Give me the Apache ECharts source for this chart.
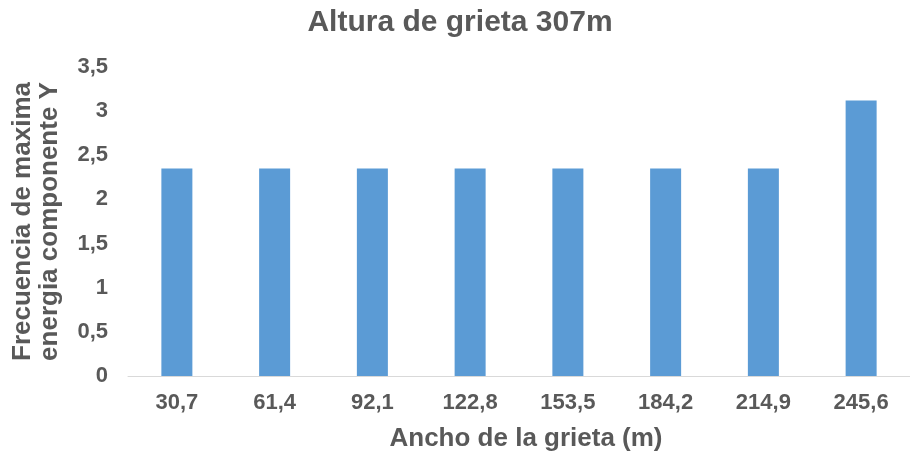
<!DOCTYPE html>
<html>
<head>
<meta charset="utf-8">
<script src="https://cdn.jsdelivr.net/npm/echarts@6/dist/echarts.min.js"></script>
<style>
  html, body { margin: 0; padding: 0; background: #ffffff; }
  #chart { width: 910px; height: 459px; }
</style>
</head>
<body>
<div id="chart"></div>
<script>
// Crack width categories (m) and the frequency of maximum Y-component energy
const categories = ['30,7', '61,4', '92,1', '122,8', '153,5', '184,2', '214,9', '245,6'];
const frequencies = [2.35, 2.35, 2.35, 2.35, 2.35, 2.35, 2.35, 3.12];

const chartTitle = 'Altura de grieta 307m';
const xTitle = 'Ancho de la grieta (m)';
const yTitle = 'Frecuencia de maxima\nenergia componente Y';

const textGray = '#595959';
const fontFamily = '"Liberation Sans", Arial, sans-serif';

const chart = echarts.init(document.getElementById('chart'), null, { renderer: 'canvas' });

chart.setOption({
  backgroundColor: '#ffffff',
  animation: false,
  title: {
    text: chartTitle,
    left: 455,
    textAlign: 'center',
    top: 3,
    textStyle: { color: textGray, fontFamily, fontSize: 30, fontWeight: 'bold' }
  },
  grid: { left: 128, top: 67, width: 789, height: 309, containLabel: false },
  xAxis: {
    type: 'category',
    data: categories,
    name: xTitle,
    nameLocation: 'middle',
    nameGap: 50,
    nameTextStyle: { color: textGray, fontFamily, fontSize: 26, fontWeight: 'bold', padding: [0, 0, 0, 14] },
    axisLine: { show: true, lineStyle: { color: '#D9D9D9', width: 1 } },
    axisTick: { show: false },
    axisLabel: { color: textGray, fontFamily, fontSize: 22, fontWeight: 'bold', margin: 16 },
    splitLine: { show: false }
  },
  yAxis: {
    type: 'value',
    min: 0,
    max: 3.5,
    interval: 0.5,
    name: yTitle,
    nameLocation: 'middle',
    nameGap: 65,
    nameTextStyle: { color: textGray, fontFamily, fontSize: 26, fontWeight: 'bold', lineHeight: 27, align: 'center' },
    axisLine: { show: false },
    axisTick: { show: false },
    splitLine: { show: false },
    axisLabel: {
      color: textGray, fontFamily, fontSize: 22, fontWeight: 'bold', margin: 20,
      formatter: v => String(v).replace('.', ',')
    }
  },
  series: [{
    type: 'bar',
    data: frequencies,
    barWidth: 31,
    itemStyle: { color: '#5B9BD5' }
  }]
});
</script>
</body>
</html>
